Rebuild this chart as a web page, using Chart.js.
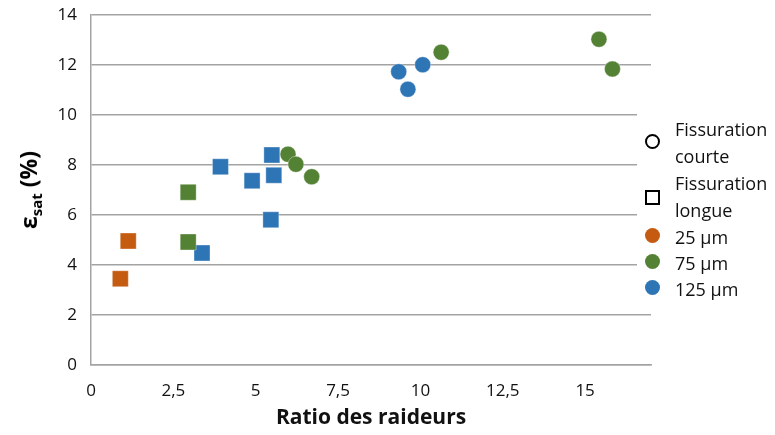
<!DOCTYPE html>
<html>
<head>
<meta charset="utf-8">
<script src="https://cdn.jsdelivr.net/npm/chart.js@4"></script>
<style>
  html, body { margin: 0; padding: 0; background: #fff; }
  #wrap { position: relative; width: 775px; height: 435px; font-family: "Open Sans", Lato, sans-serif; }
  #chart { position: absolute; left: 0; top: 0; }
  #ytitle {
    position: absolute; left: 29px; top: 190px;
    transform: translate(-50%, -50%) rotate(-90deg);
    font-weight: bold; font-size: 23px; color: #000; white-space: nowrap;
  }
  #ytitle sub { font-size: 15px; vertical-align: -5px; }
  #legende {
    position: absolute; left: 637px; top: 112px; width: 138px; height: 190px;
    background: #fff; font-size: 18px; color: #111;
  }
  .item { position: absolute; left: 38px; line-height: 27px; }
  .mk { position: absolute; box-sizing: border-box; }
</style>
</head>
<body>
<div id="wrap">
  <canvas id="chart" width="775" height="435"></canvas>
  <div id="ytitle">&epsilon;<sub>sat</sub> (%)</div>
  <div id="legende"></div>
</div>
<script>
/* Ratio des raideurs vs déformation à saturation */

const couleurs = { "25": "#C55A11", "75": "#548235", "125": "#2E75B6" };

// fissuration longue (carrés)
const longue25_x = [0.89, 1.13];
const longue25_y = [3.45, 4.96];
const longue75_x = [2.95, 2.95];
const longue75_y = [6.91, 4.92];
const longue125_x = [3.37, 3.93, 4.89, 5.49, 5.55, 5.46];
const longue125_y = [4.48, 7.93, 7.37, 8.40, 7.59, 5.81];

// fissuration courte (cercles)
const courte75_x = [5.98, 6.22, 6.70, 10.63, 15.42, 15.83];
const courte75_y = [8.43, 8.03, 7.53, 12.51, 13.03, 11.84];
const courte125_x = [9.34, 9.62, 10.07];
const courte125_y = [11.73, 11.03, 12.01];

const xTicks = [0, 2.5, 5, 7.5, 10, 12.5, 15];

function points(xs, ys) {
    return xs.map((x, i) => ({ x: x, y: ys[i] }));
}

function serie(label, xs, ys, couleur, forme) {
    return {
        label: label,
        data: points(xs, ys),
        pointStyle: forme,
        pointRadius: forme === "rect" ? 11.3 : 8,
        pointHoverRadius: forme === "rect" ? 11.3 : 8,
        backgroundColor: couleur,
        borderColor: "rgba(255,255,255,0.35)",
        borderWidth: 1
    };
}

const datasets = [
    serie("Longue 25", longue25_x, longue25_y, couleurs["25"], "rect"),
    serie("Longue 75", longue75_x, longue75_y, couleurs["75"], "rect"),
    serie("Longue 125", longue125_x, longue125_y, couleurs["125"], "rect"),
    serie("Courte 75", courte75_x, courte75_y, couleurs["75"], "circle"),
    serie("Courte 125", courte125_x, courte125_y, couleurs["125"], "circle")
];

const gris = "#A3A3A3";
const police = "'Open Sans'";

new Chart(document.getElementById("chart"), {
    type: "scatter",
    data: { datasets: datasets },
    options: {
        responsive: false,
        animation: false,
        layout: { padding: { top: 15, right: 124, left: 0, bottom: 0 } },
        plugins: { legend: { display: false }, tooltip: { enabled: false } },
        scales: {
            x: {
                type: "linear",
                min: 0,
                max: 17,
                afterBuildTicks: axis => { axis.ticks = xTicks.map(v => ({ value: v })); },
                afterFit: axis => { axis.height = 70; axis.paddingLeft = 0; axis.paddingRight = 0; },
                grid: { display: false, drawTicks: false },
                border: { display: true, color: gris, width: 1.5 },
                ticks: {
                    padding: 16,
                    color: "#111",
                    font: { family: police, size: 17 },
                    maxRotation: 0,
                    callback: v => String(v).replace(".", ",")
                },
                title: {
                    display: true,
                    text: "Ratio des raideurs",
                    color: "#111",
                    font: { family: police, size: 21, weight: "bold" },
                    padding: { top: 3 }
                }
            },
            y: {
                min: 0,
                max: 14,
                afterFit: axis => { axis.width = 91; axis.paddingTop = 0; axis.paddingBottom = 0; },
                grid: { color: gris, lineWidth: 1.5, drawTicks: false },
                border: { display: true, color: gris, width: 1.5 },
                ticks: {
                    stepSize: 2,
                    padding: 14,
                    color: "#111",
                    font: { family: police, size: 17 }
                }
            }
        }
    }
});

// légende
const legendeItems = [
    { texte: "Fissuration<br>courte", marque: "cercle", top: 4 },
    { texte: "Fissuration<br>longue", marque: "carre", top: 58 },
    { texte: "25 µm", marque: couleurs["25"], top: 112 },
    { texte: "75 µm", marque: couleurs["75"], top: 138 },
    { texte: "125 µm", marque: couleurs["125"], top: 164 }
];

const legende = document.getElementById("legende");
legendeItems.forEach(it => {
    const t = document.createElement("div");
    t.className = "item";
    t.style.top = it.top + "px";
    t.innerHTML = it.texte;
    legende.appendChild(t);

    const m = document.createElement("div");
    m.className = "mk";
    if (it.marque === "cercle") {
        Object.assign(m.style, { width: "15px", height: "15px", border: "2.5px solid #000", borderRadius: "50%", top: (it.top + 18) + "px", left: "7.5px" });
    } else if (it.marque === "carre") {
        Object.assign(m.style, { width: "15px", height: "15px", border: "2.5px solid #000", top: (it.top + 19.5) + "px", left: "7.5px" });
    } else {
        Object.assign(m.style, { width: "15px", height: "15px", background: it.marque, borderRadius: "50%", top: (it.top + 3.5) + "px", left: "7.5px" });
    }
    legende.appendChild(m);
});
</script>
</body>
</html>
